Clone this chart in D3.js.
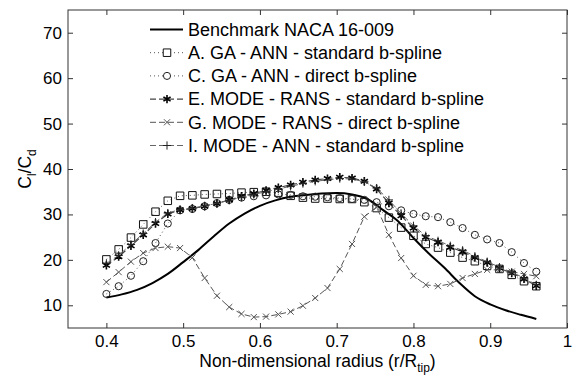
<!DOCTYPE html>
<html>
<head>
<meta charset="utf-8">
<script src="https://cdn.jsdelivr.net/npm/d3@7"></script>
<style>
  html, body { margin: 0; padding: 0; background: #fff; }
  svg { display: block; font-family: "Liberation Sans", Arial, sans-serif; }
</style>
</head>
<body>
<svg id="chart" width="576" height="378"></svg>
<script>
// radius stations shared by the marked series
const radius = [0.400, 0.416, 0.432, 0.448, 0.464, 0.480, 0.496, 0.512, 0.528, 0.544,
  0.560, 0.576, 0.592, 0.608, 0.624, 0.640, 0.656, 0.672, 0.688, 0.704,
  0.720, 0.736, 0.752, 0.768, 0.784, 0.800, 0.816, 0.832, 0.848, 0.864,
  0.880, 0.896, 0.912, 0.928, 0.944, 0.960];

const benchR = [0.40, 0.42, 0.44, 0.46, 0.48, 0.50, 0.52, 0.54, 0.56, 0.58, 0.60, 0.62, 0.64, 0.66,
  0.68, 0.70, 0.72, 0.74, 0.76, 0.78, 0.80, 0.82, 0.84, 0.86, 0.88, 0.90, 0.92, 0.94, 0.96];
const benchVal = [11.7, 12.4, 13.4, 14.9, 16.9, 19.5, 22.2, 25.2, 28.0, 30.2, 31.9, 33.1, 33.9, 34.3,
  34.6, 34.7, 34.4, 33.4, 31.0, 28.5, 24.8, 21.4, 18.3, 14.9, 12.0, 10.2, 8.9, 7.9, 7.0];

const gaStd = [20.1, 22.3, 24.9, 27.8, 30.6, 33.0, 34.1, 34.2, 34.4, 34.5, 34.6, 34.8, 34.9, 35.0,
  34.8, 34.1, 33.7, 33.5, 33.5, 33.4, 33.4, 32.7, 31.4, 29.3, 27.1, 25.3, 23.5, 22.7, 21.6, 20.5,
  19.7, 18.7, 18.0, 16.7, 15.3, 14.2];
const gaDirect = [12.5, 14.2, 16.5, 19.7, 23.7, 28.0, 30.9, 31.2, 31.8, 32.5, 33.2, 33.7, 34.0, 34.2,
  34.4, 34.3, 34.0, 33.9, 33.8, 33.6, 33.4, 33.2, 32.7, 31.8, 30.9, 30.1, 29.6, 29.4, 28.3, 27.0,
  25.5, 24.5, 23.7, 21.7, 19.3, 17.4];
const modeRansStd = [18.8, 20.7, 23.1, 25.5, 28.0, 30.1, 31.0, 31.3, 31.8, 32.4, 33.2, 34.0, 34.6, 35.3,
  35.9, 36.5, 37.1, 37.6, 37.9, 38.2, 38.0, 37.3, 35.6, 32.5, 29.7, 27.0, 25.0, 23.9, 22.8, 21.8,
  20.5, 19.4, 18.2, 17.1, 15.8, 14.3];
const modeRansDirect = [15.1, 17.3, 19.6, 21.5, 22.6, 22.9, 22.6, 20.5, 16.0, 12.1, 9.6, 8.1, 7.4, 7.5,
  8.0, 8.6, 9.9, 11.6, 13.8, 18.0, 23.5, 29.5, 31.6, 25.5, 20.4, 16.5, 14.5, 14.2, 14.7, 16.0,
  16.9, 17.8, 17.8, 17.4, 16.9, 16.4];
const modeAnnStd = [19.2, 21.0, 23.4, 25.8, 28.3, 30.3, 31.1, 31.4, 31.9, 32.5, 33.1, 33.8, 34.4, 35.0,
  35.6, 36.2, 36.8, 37.3, 37.6, 37.9, 37.8, 37.2, 35.8, 33.2, 30.2, 27.5, 25.3, 24.2, 23.1, 22.1,
  20.8, 19.6, 18.4, 17.3, 16.0, 14.5];

const legendLabels = [
  "Benchmark NACA 16-009",
  "A. GA - ANN - standard b-spline",
  "C. GA - ANN - direct b-spline",
  "E. MODE - RANS - standard b-spline",
  "G. MODE - RANS - direct b-spline",
  "I. MODE - ANN - standard b-spline"
];
const xTicks = [0.4, 0.5, 0.6, 0.7, 0.8, 0.9, 1];
const yTicks = [10, 20, 30, 40, 50, 60, 70];

const svg = d3.select("#chart");
const margin = { top: 10, right: 9, bottom: 50, left: 68 };
const width = 576 - margin.left - margin.right;
const height = 378 - margin.top - margin.bottom;

const x = d3.scaleLinear().domain([0.35, 1]).range([0, width]);
const y = d3.scaleLinear().domain([5, 75]).range([height, 0]);

const frame = svg.append("g").attr("transform", `translate(${margin.left},${margin.top})`);

const sym = (type, fallback) => type || fallback;
const series = [
  { name: legendLabels[1], values: gaStd, dash: "1,3", stroke: "#555", width: 1,
    symbol: sym(d3.symbolSquare2, d3.symbolSquare), size: 72, mstroke: "#111" },
  { name: legendLabels[2], values: gaDirect, dash: "1,3", stroke: "#555", width: 1,
    symbol: sym(d3.symbolCircle, d3.symbolCircle), size: 40, mstroke: "#222" },
  { name: legendLabels[3], values: modeRansStd, dash: "6,3", stroke: "#444", width: 1.2,
    symbol: sym(d3.symbolAsterisk, d3.symbolCross), size: 48, mstroke: "#000", mwidth: 1.6 },
  { name: legendLabels[4], values: modeRansDirect, dash: "6,3", stroke: "#555", width: 1,
    symbol: sym(d3.symbolTimes, d3.symbolCross), size: 26, mstroke: "#555" },
  { name: legendLabels[5], values: modeAnnStd, dash: "6,3", stroke: "#666", width: 1,
    symbol: sym(d3.symbolPlus, d3.symbolCross), size: 24, mstroke: "#222" }
];

// axes box + ticks (inward, all four sides)
const axisColor = "#333";
frame.append("rect")
  .attr("width", width).attr("height", height)
  .attr("fill", "none").attr("stroke", axisColor).attr("stroke-width", 1);

const styleAxis = g => {
  g.select(".domain").remove();
  g.selectAll(".tick line").attr("stroke", axisColor);
  g.selectAll(".tick text").attr("fill", "#000").style("font-size", "17px");
};

frame.append("g").attr("transform", `translate(0,${height})`)
  .call(d3.axisBottom(x).tickValues(xTicks).tickSizeInner(-5).tickSizeOuter(0).tickPadding(7)
    .tickFormat(d3.format("")))
  .call(styleAxis);
frame.append("g")
  .call(d3.axisTop(x).tickValues(xTicks).tickSizeInner(-5).tickSizeOuter(0).tickFormat(""))
  .call(styleAxis);
frame.append("g")
  .call(d3.axisLeft(y).tickValues(yTicks).tickSizeInner(-5).tickSizeOuter(0).tickPadding(6))
  .call(styleAxis);
frame.append("g").attr("transform", `translate(${width},0)`)
  .call(d3.axisRight(y).tickValues(yTicks).tickSizeInner(-5).tickSizeOuter(0).tickFormat(""))
  .call(styleAxis);

// benchmark curve
frame.append("path")
  .datum(benchR.map((r, i) => [r, benchVal[i]]))
  .attr("fill", "none").attr("stroke", "#000").attr("stroke-width", 2)
  .attr("d", d3.line().x(d => x(d[0])).y(d => y(d[1])).curve(d3.curveMonotoneX));

const line = d3.line().x(d => x(d[0])).y(d => y(d[1]));

series.forEach(s => {
  const pts = radius.map((r, i) => [r, s.values[i]]);
  frame.append("path").datum(pts)
    .attr("fill", "none").attr("stroke", s.stroke).attr("stroke-width", s.width)
    .attr("stroke-dasharray", s.dash).attr("d", line);
  frame.selectAll(null).data(pts).enter().append("path")
    .attr("transform", d => `translate(${x(d[0])},${y(d[1])})`)
    .attr("d", d3.symbol().type(s.symbol).size(s.size))
    .attr("fill", "none").attr("stroke", s.mstroke).attr("stroke-width", s.mwidth || 1);
});

// legend (no box)
const legend = frame.append("g").attr("transform", "translate(82,19.5)");
const rowH = 23.2;
const legendItems = [{ name: legendLabels[0], stroke: "#000", width: 2, dash: null }].concat(series);
legendItems.forEach((s, i) => {
  const g = legend.append("g").attr("transform", `translate(0,${i * rowH})`);
  g.append("line").attr("x1", 0).attr("x2", 33)
    .attr("stroke", s.stroke).attr("stroke-width", s.width)
    .attr("stroke-dasharray", s.dash);
  if (s.symbol) {
    g.append("path").attr("transform", "translate(17,0)")
      .attr("d", d3.symbol().type(s.symbol).size(s.size))
      .attr("fill", "#fff").attr("stroke", s.mstroke).attr("stroke-width", s.mwidth || 1);
  }
  g.append("text").attr("x", 38).attr("dy", "0.35em")
    .style("font-size", "18px").attr("fill", "#000").text(s.name);
});

// axis labels
const xl = svg.append("text")
  .attr("x", margin.left + width / 2).attr("y", 367)
  .attr("text-anchor", "middle").style("font-size", "17.5px");
xl.append("tspan").text("Non-dimensional radius (r/R");
xl.append("tspan").attr("dy", 5).style("font-size", "12px").text("tip");
xl.append("tspan").attr("dy", -5).text(")");

const yl = svg.append("text")
  .attr("transform", `translate(31,${margin.top + height / 2}) rotate(-90)`)
  .attr("text-anchor", "middle").style("font-size", "17.5px");
yl.append("tspan").text("C");
yl.append("tspan").attr("dy", 5).style("font-size", "12px").text("l");
yl.append("tspan").attr("dy", -5).text("/C");
yl.append("tspan").attr("dy", 5).style("font-size", "12px").text("d");
</script>
</body>
</html>
